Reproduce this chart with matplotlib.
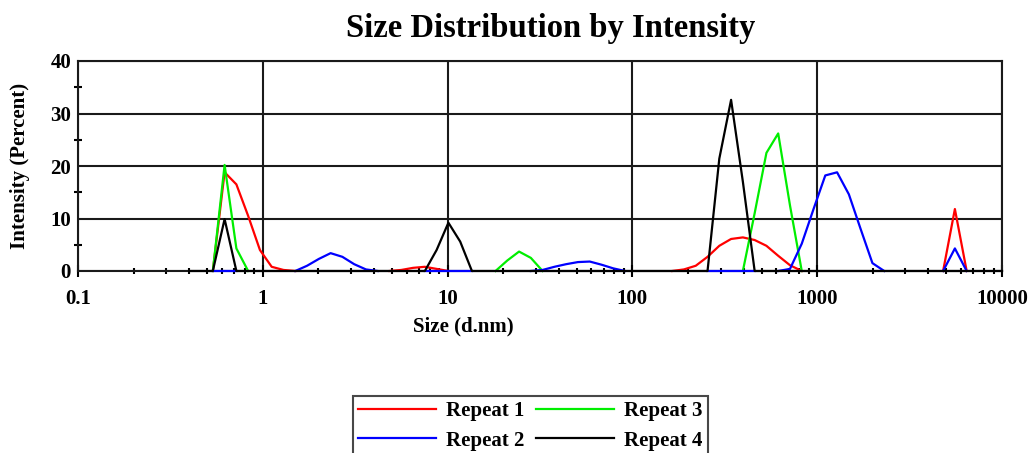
import numpy as np
import matplotlib
matplotlib.use("Agg")
import matplotlib.pyplot as plt
from matplotlib.ticker import FixedLocator, FixedFormatter, LogLocator, NullFormatter

# Size bins (d.nm)
sizes = [0.4, 0.4632, 0.5365, 0.6213, 0.7195, 0.8332, 0.9649, 1.117, 1.294, 1.499,
         1.736, 2.01, 2.328, 2.696, 3.122, 3.615, 4.187, 4.849, 5.615, 6.503,
         7.531, 8.721, 10.1, 11.7, 13.54, 15.69, 18.17, 21.04, 24.36, 28.21,
         32.67, 37.84, 43.82, 50.75, 58.77, 68.06, 78.82, 91.28, 105.7, 122.4,
         141.8, 164.2, 190.1, 220.2, 255.0, 295.3, 342.0, 396.1, 458.7, 531.2,
         615.1, 712.4, 825.0, 955.4, 1106, 1281, 1484, 1718, 1990, 2305,
         2669, 3091, 3580, 4145, 4801, 5560, 6439, 7456, 8635, 10000]

# Intensity (%) per bin
repeat1 = [0, 0, 0, 18.8, 16.5, 10.5, 4.0, 0.8, 0.2, 0,
           0, 0, 0, 0, 0, 0, 0, 0, 0.2, 0.6,
           0.8, 0.4, 0, 0, 0, 0, 0, 0, 0, 0,
           0, 0, 0, 0, 0, 0, 0, 0, 0, 0,
           0, 0, 0.3, 1.0, 2.7, 4.8, 6.1, 6.4, 5.9, 4.8,
           2.9, 1.1, 0, 0, 0, 0, 0, 0, 0, 0,
           0, 0, 0, 0, 0, 11.8, 0, 0, 0, 0]
repeat2 = [0, 0, 0, 0, 0, 0, 0, 0, 0, 0,
           1.0, 2.3, 3.4, 2.7, 1.3, 0.3, 0, 0, 0, 0,
           0, 0, 0, 0, 0, 0, 0, 0, 0, 0,
           0.2, 0.8, 1.3, 1.7, 1.8, 1.2, 0.5, 0, 0, 0,
           0, 0, 0, 0, 0, 0, 0, 0, 0, 0,
           0, 0.4, 5.2, 11.8, 18.2, 18.8, 14.6, 8.0, 1.5, 0,
           0, 0, 0, 0, 0, 4.3, 0, 0, 0, 0]
repeat3 = [0, 0, 0, 20.2, 4.3, 0, 0, 0, 0, 0,
           0, 0, 0, 0, 0, 0, 0, 0, 0, 0,
           0, 0, 0, 0, 0, 0, 0, 2.0, 3.7, 2.5,
           0, 0, 0, 0, 0, 0, 0, 0, 0, 0,
           0, 0, 0, 0, 0, 0, 0, 0, 11.0, 22.5,
           26.2, 12.5, 0, 0, 0, 0, 0, 0, 0, 0,
           0, 0, 0, 0, 0, 0, 0, 0, 0, 0]
repeat4 = [0, 0, 0, 9.9, 0, 0, 0, 0, 0, 0,
           0, 0, 0, 0, 0, 0, 0, 0, 0, 0,
           0, 4.0, 9.2, 5.6, 0, 0, 0, 0, 0, 0,
           0, 0, 0, 0, 0, 0, 0, 0, 0, 0,
           0, 0, 0, 0, 0, 21.4, 32.6, 17.0, 0, 0,
           0, 0, 0, 0, 0, 0, 0, 0, 0, 0,
           0, 0, 0, 0, 0, 0, 0, 0, 0, 0]

labels = ["Repeat 1", "Repeat 2", "Repeat 3", "Repeat 4"]
colors = ["#ff0000", "#0000ff", "#00ee00", "#000000"]
xticks = [0.1, 1, 10, 100, 1000, 10000]
xticklabels = ["0.1", "1", "10", "100", "1000", "10000"]
yticks = [0, 10, 20, 30, 40]

serif = ["Liberation Serif", "DejaVu Serif"]
plt.rcParams["font.family"] = serif
plt.rcParams["font.weight"] = "bold"

W, H = 1029, 453
fig = plt.figure(figsize=(W / 100, H / 100), dpi=100)
ax = fig.add_axes([78 / W, 1 - 271 / H, 924 / W, 210 / H])

series = {"Repeat 1": repeat1, "Repeat 2": repeat2, "Repeat 3": repeat3, "Repeat 4": repeat4}
order = ["Repeat 1", "Repeat 3", "Repeat 2", "Repeat 4"]  # drawing order (black on top)

def zero_seg(v):
    v = np.asarray(v, float)
    return (v[:-1] == 0) & (v[1:] == 0)

handles = {}
for k, name in enumerate(order):
    v = np.asarray(series[name], float)
    zs = zero_seg(v)
    covered = np.zeros_like(zs)
    for later in order[k + 1:]:
        covered |= zero_seg(series[later])
    hidden = zs & covered
    y = v.copy()
    for i in range(len(v)):
        if v[i] != 0:
            continue
        left = hidden[i - 1] if i > 0 else True
        right = hidden[i] if i < len(hidden) else True
        if left and right:
            y[i] = np.nan
    c = colors[labels.index(name)]
    ln, = ax.plot(sizes, y, color=c, lw=1.6, zorder=4, clip_on=False)
    handles[name] = ln

ax.set_xscale("log")
ax.set_xlim(0.1, 10000)
ax.set_ylim(0, 40)

ax.xaxis.set_major_locator(FixedLocator(xticks))
ax.xaxis.set_major_formatter(FixedFormatter(xticklabels))
ax.xaxis.set_minor_locator(LogLocator(base=10, subs=[2, 3, 4, 5, 6, 7, 8, 9]))
ax.xaxis.set_minor_formatter(NullFormatter())
ax.yaxis.set_major_locator(FixedLocator(yticks))
ax.yaxis.set_minor_locator(FixedLocator([5, 15, 25, 35]))

ax.grid(True, which="major", color="#1a1a1a", lw=1.5, zorder=1)
ax.set_axisbelow(True)
for sp in ax.spines.values():
    sp.set_linewidth(1.5)
    sp.set_color("#1a1a1a")

ax.tick_params(axis="x", which="major", direction="inout", length=8, width=1.5,
               pad=9, labelsize=15)
ax.tick_params(axis="x", which="minor", direction="inout", length=5, width=1.5)
ax.tick_params(axis="y", which="major", direction="inout", length=0, width=1.5,
               pad=5, labelsize=15)
ax.tick_params(axis="y", which="minor", direction="inout", length=6, width=1.5)
for t in ax.get_xticklabels() + ax.get_yticklabels():
    t.set_fontweight("bold")

fig.text(551 / W, 1 - 28 / H, "Size Distribution by Intensity", ha="center",
         va="center", fontsize=23.5, fontweight="bold")
fig.text(20 / W, 1 - 166 / H, "Intensity (Percent)", rotation=90, ha="center",
         va="center", fontsize=15, fontweight="bold")
fig.text(463 / W, 1 - 326 / H, "Size (d.nm)", ha="center", va="center",
         fontsize=15, fontweight="bold")

leg = fig.legend([handles[n] for n in labels], labels, ncol=2,
                 loc="upper center", bbox_to_anchor=(530 / W, 1 - 396 / H),
                 prop={"family": serif, "weight": "bold", "size": 15},
                 frameon=True, fancybox=False, edgecolor="#1a1a1a",
                 handlelength=3.75, handletextpad=0.48, columnspacing=0.55,
                 labelspacing=0.45, borderpad=0.25, borderaxespad=0)
leg.get_frame().set_linewidth(1.5)

fig.savefig("out.png", dpi=100)
